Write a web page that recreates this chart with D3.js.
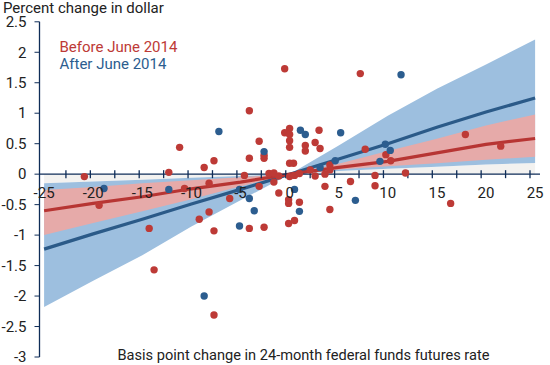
<!DOCTYPE html>
<html><head><meta charset="utf-8">
<script src="https://cdn.jsdelivr.net/npm/d3@7"></script>
<style>body{margin:0;background:#fff}svg{display:block}text{font-family:Roboto,"Noto Sans",sans-serif}</style>
</head><body>
<svg id="c" width="550" height="365"></svg>
<script>
// ---- data ----
const bandX = [-25,-20,-15,-10,-5,0,5,10,15,20,25];
const blueLine  = [-1.23,-0.98,-0.74,-0.49,-0.25,0,0.25,0.50,0.77,1.02,1.25];
const blueUpper = [-0.15,-0.12,-0.09,-0.06,-0.03,0,0.47,0.96,1.40,1.80,2.21];
const blueLower = [-2.18,-1.75,-1.33,-0.86,-0.43,0,0.05,0.09,0.12,0.16,0.185];
const redLine   = [-0.60,-0.48,-0.37,-0.24,-0.13,0,0.11,0.21,0.35,0.49,0.585];
const redUpper  = [-0.26,-0.21,-0.15,-0.10,-0.05,0,0.17,0.38,0.58,0.80,0.98];
const redLower  = [-1.0,-0.80,-0.61,-0.41,-0.20,0,0.075,0.13,0.18,0.235,0.285];

const beforePts = [
 [-0.5,1.73],[7.2,1.65],[-4.1,1.04],[-11.2,0.44],[-12.3,0.03],[-8.7,0.11],[-7.7,0.22],
 [-4.6,-0.02],[-4.1,0.26],[-3.1,0.54],[-2.6,0.31],[-2.6,0.26],[0.0,0.75],[-0.5,0.68],
 [0.0,0.65],[0.0,0.55],[0.0,0.44],[3.0,0.72],[1.6,0.47],[1.6,0.38],[2.6,0.52],[3.1,0.42],
 [7.7,0.41],[9.8,0.32],[10.3,0.22],[17.9,0.65],[21.5,0.46],[4.1,0.15],[4.1,0.07],[3.6,0.0],
 [2.1,0.07],[2.6,-0.03],[0.4,0.18],[0.0,0.18],[11.8,0.02],[8.7,-0.02],[8.7,-0.19],[6.2,-0.12],
 [3.6,-0.20],[4.1,-0.58],[1.0,-0.46],[-1.1,-0.31],[-0.1,-0.42],[-0.1,-0.48],[-0.1,-0.81],
 [0.5,-0.76],[16.4,-0.48],[-2.1,0.01],[-1.6,0.02],[-1.1,-0.03],[0.0,-0.04],[0.5,-0.02],
 [1.0,0.01],[-1.6,-0.13],[-3.1,-0.20],[-6.1,-0.40],[-9.2,-0.74],[-8.2,-0.62],[-7.7,-0.93],
 [-4.1,-0.89],[-2.6,-0.87],[-14.3,-0.89],[-13.8,-1.57],[-7.7,-2.31],[-19.4,-0.51],
 [-20.9,-0.04],[-10.7,-0.235],[-8.2,-0.15]
];
const afterPts = [
 [-7.2,0.70],[-2.6,0.37],[1.1,0.72],[1.6,0.65],[5.2,0.68],[9.75,0.49],[10.25,0.39],[9.2,0.21],
 [11.35,1.63],[4.65,0.22],[3.1,0.11],[0.5,-0.25],[1.0,-0.61],[6.7,-0.43],[-5.1,-0.25],
 [-4.1,-0.40],[-3.6,-0.60],[-5.1,-0.85],[-8.7,-2.0],[-18.9,-0.235],[-12.3,-0.25]
];
const xTicks = d3.range(-25, 25.01, 2.5);
const xLabels = [-25,-20,-15,-10,-5,0,5,10,15,20,25];
const yTicks = [2.5,2,1.5,1,0.5,0,-0.5,-1,-1.5,-2,-2.5,-3];

// ---- colors ----
const C = {red:"#bd3a36", blue:"#2c5d8f", redLine:"#b73533", blueLine:"#2b5a88",
  blueBand:"#9dbfdf", redBand:"#e6aaa9", gray:"#f3f2f0", axis:"#0f2d58", text:"#222"};

const svg = d3.select("#c");
const x = d3.scaleLinear().domain([-25,25]).range([44.1,535.1]);
const xt = d3.scaleLinear().domain([-25,25]).range([41.5,530]);
const y = d3.scaleLinear().domain([-3,2.5]).range([357,21.8]);

const band = (lo, hi) => d3.area().x((d,i)=>x(bandX[i])).y0((d,i)=>y(lo[i])).y1((d,i)=>y(hi[i]));
const grayEdge = bandX.map((v,i)=> v<=0 ? blueUpper[i] : blueLower[i]);
const zeros = bandX.map(()=>0);

svg.append("path").attr("d", band(zeros, grayEdge)(bandX)).attr("fill", C.gray);
svg.append("path").attr("d", band(blueLower, blueUpper)(bandX)).attr("fill", C.blueBand);
svg.append("path").attr("d", band(redLower, redUpper)(bandX)).attr("fill", C.redBand);

const line = arr => d3.line().x((d,i)=>x(bandX[i])).y((d,i)=>y(arr[i]));
svg.append("path").attr("d", line(blueLine)(bandX)).attr("fill","none").attr("stroke",C.blueLine).attr("stroke-width",3.2);
svg.append("path").attr("d", line(redLine)(bandX)).attr("fill","none").attr("stroke",C.redLine).attr("stroke-width",3.2);

// axes
const ax = svg.append("g").attr("stroke", C.axis);
ax.append("line").attr("x1",39.5).attr("x2",39.5).attr("y1",y(2.5)).attr("y2",y(-3)).attr("stroke-width",1.3);
ax.append("line").attr("x1",39.5).attr("x2",540).attr("y1",y(0)).attr("y2",y(0)).attr("stroke-width",1.3);
ax.selectAll(".yt").data(yTicks).join("line").attr("x1",34.5).attr("x2",39.5)
  .attr("y1",d=>y(d)).attr("y2",d=>y(d)).attr("stroke-width",1);
ax.selectAll(".xt").data(xTicks.filter(d=>d>-25)).join("line").attr("x1",d=>xt(d)).attr("x2",d=>xt(d))
  .attr("y1",y(0)-4).attr("y2",y(0)+4).attr("stroke-width",1.3);

// dots
svg.append("g").selectAll("circle").data(beforePts).join("circle")
  .attr("cx",d=>x(d[0])).attr("cy",d=>y(d[1])).attr("r",3.7).attr("fill",C.red);
svg.append("g").selectAll("circle").data(afterPts).join("circle")
  .attr("cx",d=>x(d[0])).attr("cy",d=>y(d[1])).attr("r",3.7).attr("fill",C.blue);

// labels
const fs = 15;
svg.append("g").selectAll("text").data(yTicks).join("text")
  .attr("x",26.5).attr("y",d=>y(d)).attr("dy","0.35em").attr("text-anchor","end")
  .attr("font-size",fs).attr("fill",C.text).text(d=>String(d));
svg.append("g").selectAll("text").data(xLabels).join("text")
  .attr("x",d=>x(d)).attr("y",198).attr("text-anchor","middle")
  .attr("font-size",fs).attr("fill",C.text).text(d=>String(d));

svg.append("text").attr("x",3).attr("y",13.2).attr("font-size",fs).attr("fill",C.text).text("Percent change in dollar");
svg.append("text").attr("x",303.5).attr("y",360).attr("text-anchor","middle").attr("font-size",14.6).attr("fill",C.text)
  .text("Basis point change in 24-month federal funds futures rate");
svg.append("text").attr("x",59.5).attr("y",51.5).attr("font-size",fs).attr("fill",C.red).text("Before June 2014");
svg.append("text").attr("x",59.5).attr("y",68.5).attr("font-size",fs).attr("fill",C.blue).text("After June 2014");
</script>
</body></html>
